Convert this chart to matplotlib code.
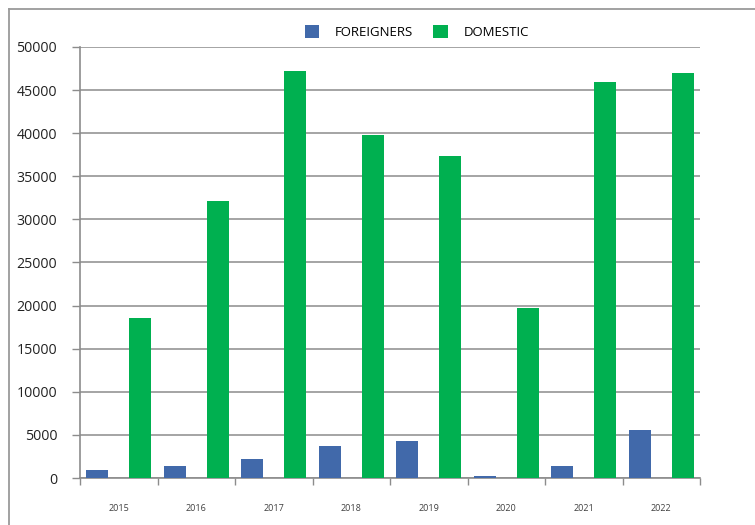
import matplotlib
matplotlib.use("Agg")
import matplotlib.pyplot as plt
from matplotlib.lines import Line2D
import numpy as np

plt.rcParams["font.family"] = ["Open Sans", "DejaVu Sans"]

YEARS      = ["2015", "2016", "2017", "2018", "2019", "2020", "2021", "2022"]
FOREIGNERS = [950, 1450, 2200, 3700, 4250, 200, 1350, 5550]
DOMESTIC   = [18600, 32100, 47200, 39800, 37400, 19700, 45900, 47000]

BLUE  = "#4169AA"
GREEN = "#00B050"
GRID  = "#8C8C8C"


def main():
    fig = plt.figure(figsize=(7.55, 5.25), dpi=100)
    ax = fig.add_axes([80 / 755, 47 / 525, 620 / 755, 431 / 525])

    x = np.arange(len(YEARS))
    width = 0.285
    off = 0.277
    ax.bar(x - off, FOREIGNERS, width, color=BLUE, label="FOREIGNERS", zorder=3)
    ax.bar(x + off, DOMESTIC, width, color=GREEN, label="DOMESTIC", zorder=3)

    ax.set_xlim(-0.5, len(YEARS) - 0.5)
    ax.set_ylim(0, 50000)
    ax.set_yticks(range(0, 50001, 5000))
    ax.yaxis.grid(True, color=GRID, linewidth=1.1, zorder=0)

    # category labels at centers, tick marks at boundaries
    ax.set_xticks(x)
    ax.set_xticklabels(YEARS, fontsize=6.5, color="#404040")
    ax.tick_params(axis="x", which="major", length=0, pad=19)
    ax.set_xticks(np.arange(-0.5, len(YEARS), 1.0), minor=True)
    ax.tick_params(axis="x", which="minor", length=5, width=1, color=GRID)
    ax.tick_params(axis="y", length=6, width=1, color=GRID, pad=10.5,
                   labelsize=10.2, labelcolor="#222222")

    for s in ["top", "right"]:
        ax.spines[s].set_visible(False)
    for s in ["left", "bottom"]:
        ax.spines[s].set_color(GRID)
        ax.spines[s].set_linewidth(1.2)

    fig.legend(loc="center", bbox_to_anchor=(417 / 755, 1 - 32 / 525), ncol=2,
               frameon=False, fontsize=9.5, handlelength=1.1, handleheight=1.1,
               handletextpad=1.2, columnspacing=1.5)

    # outer chart border (top and left)
    fig.add_artist(Line2D([9 / 755, 1], [1 - 9 / 525, 1 - 9 / 525],
                          color="#9A9A9A", linewidth=1.3))
    fig.add_artist(Line2D([9 / 755, 9 / 755], [0, 1 - 9 / 525],
                          color="#9A9A9A", linewidth=1.3))

    fig.savefig("out.png", dpi=100)
    plt.close(fig)


if __name__ == "__main__":
    main()
